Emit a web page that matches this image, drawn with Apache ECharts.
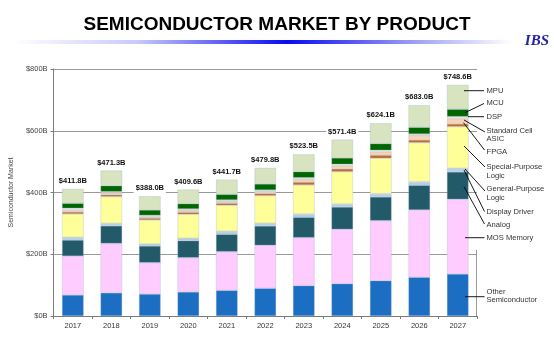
<!DOCTYPE html>
<html>
<head>
<meta charset="utf-8">
<script src="https://cdn.jsdelivr.net/npm/echarts@6/dist/echarts.min.js"></script>
<style>html,body{margin:0;padding:0;background:#fff;}#c{width:554px;height:342px;}</style>
</head>
<body>
<div id="c"></div>
<script>
const years = ['2017','2018','2019','2020','2021','2022','2023','2024','2025','2026','2027'];
const otherSemi     = [68, 75, 71, 77.8, 83, 89.6, 98.3, 104.7, 114.4, 125.4, 136];
const mosMemory     = [126, 160, 101.8, 111.2, 125.4, 139.4, 155.5, 176.1, 194.4, 218, 242];
const analog        = [52, 57, 54, 55, 56.2, 62.6, 66, 72.2, 76.8, 80, 88.6];
const displayDriver = [6, 5.5, 4.5, 5.5, 7, 6, 7.7, 7, 7.7, 8.6, 9];
const gpLogic       = [3, 2.5, 2, 2.2, 2.7, 2.7, 3, 3, 3, 3, 2.9];
const spLogic       = [75.5, 86.6, 77.7, 77.7, 84.3, 89.5, 93.9, 104.5, 114.6, 126.5, 134.9];
const fpga          = [6.5, 6, 6, 6.5, 6.5, 7, 9, 9, 10, 8.6, 8.6];
const asic          = [6.4, 6, 5, 6.5, 6.5, 7, 9.6, 10, 11, 15.1, 17.3];
const dsp           = [5.6, 4.2, 4, 4.3, 4.2, 4.2, 5, 4.9, 5, 4.3, 6.5];
const mcu           = [16, 19.2, 17.4, 17.2, 18.2, 19.7, 19.5, 20.6, 21.6, 21.6, 23.8];
const mpu           = [46.8, 49.3, 44.6, 45.7, 47.7, 52.1, 56, 59.4, 65.6, 71.9, 79];
const totals        = [411.8, 471.3, 388.0, 409.6, 441.7, 479.8, 523.5, 571.4, 624.1, 683.0, 748.6];
const yTicks = [0, 200, 400, 600, 800];

const seriesDefs = [
  ['Other Semiconductor', otherSemi, '#1b6ec2'],
  ['MOS Memory', mosMemory, '#ffccff'],
  ['Analog', analog, '#235a69'],
  ['Display Driver', displayDriver, '#b3d3ef'],
  ['General-Purpose Logic', gpLogic, '#e4ecf6'],
  ['Special-Purpose Logic', spLogic, '#ffff99'],
  ['FPGA', fpga, '#c4692f'],
  ['Standard Cell ASIC', asic, '#fbd2b2'],
  ['DSP', dsp, '#f1f1ea'],
  ['MCU', mcu, '#006600'],
  ['MPU', mpu, '#d8e4bf']
];

const FONT = 'Liberation Sans, Arial, sans-serif';

const series = seriesDefs.map((d, i) => {
  const s = {
    name: d[0], type: 'bar', stack: 'total', data: d[1], barWidth: '56%',
    itemStyle: { color: d[2], borderColor: 'rgba(150,175,195,0.6)', borderWidth: 0.5 },
    emphasis: { disabled: true }
  };
  if (i === seriesDefs.length - 1) {
    s.label = {
      show: true, position: 'top', distance: 3,
      formatter: p => '$' + totals[p.dataIndex].toFixed(1) + 'B',
      fontFamily: FONT, fontSize: 7.5, fontWeight: 'bold', color: '#111',
      backgroundColor: '#fff', padding: [1, 2]
    };
  }
  return s;
});

// Annotation labels (layout) with leader lines
const notes = [
  {t: 'MPU', ty: 90.7, a: [464, 90.7], b: [484, 90.7]},
  {t: 'MCU', ty: 103.3, a: [465, 112.7], b: [484, 103.5]},
  {t: 'DSP', ty: 116.7, a: [468, 116.7], b: [484, 116.7]},
  {t: 'Standard Cell\nASIC', ty: 130.7, a: [464, 120], b: [485, 132]},
  {t: 'FPGA', ty: 152, a: [463.5, 122.7], b: [484.5, 150]},
  {t: 'Special-Purpose\nLogic', ty: 167, a: [464, 146], b: [485, 167]},
  {t: 'General-Purpose\nLogic', ty: 189.5, a: [465, 169], b: [485, 191]},
  {t: 'Display Driver', ty: 212, a: [464, 170], b: [484.5, 211.5]},
  {t: 'Analog', ty: 225, a: [464, 186.7], b: [484.5, 224]},
  {t: 'MOS Memory', ty: 237.7, a: [465, 237.7], b: [484.5, 237.7]},
  {t: 'Other\nSemiconductor', ty: 291.7, a: [465, 296.7], b: [484.5, 296.7]}
];

const graphics = [
  { type: 'rect', shape: {x: 12, y: 40, width: 500, height: 4}, silent: true,
    style: { fill: new echarts.graphic.LinearGradient(0, 0, 1, 0, [
      {offset: 0, color: 'rgba(255,255,255,1)'},
      {offset: 0.25, color: '#c9c9fb'},
      {offset: 0.55, color: '#0a0af0'},
      {offset: 0.8, color: '#9c9cf6'},
      {offset: 1, color: 'rgba(255,255,255,1)'}
    ]) } },
  { type: 'text', right: 5, top: 34, silent: true,
    style: { text: 'IBS', font: 'italic bold 15px "Liberation Serif", "Times New Roman", serif', fill: '#2323a6' } },
  { type: 'line', shape: {x1: 476.5, y1: 250, x2: 476.5, y2: 316}, silent: true,
    style: { stroke: '#9a9a9a', lineWidth: 1 } }
];
notes.forEach(n => {
  graphics.push({ type: 'line', silent: true, z: 10,
    shape: {x1: n.a[0], y1: n.a[1], x2: n.b[0], y2: n.b[1]},
    style: { stroke: '#000', lineWidth: 0.9 } });
  graphics.push({ type: 'text', silent: true, z: 10, x: 486.5, y: n.ty - 4.5,
    style: { text: n.t, fontFamily: FONT, fontSize: 7.6, fill: '#333', lineHeight: 8.8, verticalAlign: 'top', align: 'left' } });
});

const chart = echarts.init(document.getElementById('c'), null, {renderer: 'canvas'});
chart.setOption({
  animation: false,
  backgroundColor: '#fff',
  title: {
    text: 'SEMICONDUCTOR MARKET BY PRODUCT', left: 'center', top: 10,
    textStyle: { fontFamily: FONT, fontSize: 19, fontWeight: 'bold', color: '#000' }
  },
  grid: { left: 42, right: 77, top: 69, bottom: 26 },
  xAxis: {
    type: 'category', data: years,
    axisLine: { lineStyle: { color: '#7a7a7a', width: 1 } },
    axisTick: { show: true, length: 3, lineStyle: { color: '#7a7a7a' } },
    axisLabel: { fontFamily: FONT, fontSize: 7.5, color: '#333', margin: 6 }
  },
  yAxis: {
    type: 'value', min: yTicks[0], max: yTicks[yTicks.length - 1], interval: 200,
    name: 'Semiconductor Market', nameLocation: 'middle', nameGap: 30,
    nameTextStyle: { fontFamily: FONT, fontSize: 7, color: '#444' },
    axisLine: { show: true, lineStyle: { color: '#7a7a7a', width: 1 } },
    axisTick: { show: true, length: 3, lineStyle: { color: '#7a7a7a' } },
    axisLabel: { fontFamily: FONT, fontSize: 7.5, color: '#444', margin: 6,
      formatter: v => '$' + v + 'B' },
    splitLine: { show: true, lineStyle: { color: '#9a9a9a', width: 1.2 } }
  },
  series: series,
  graphic: graphics
});
</script>
</body>
</html>
